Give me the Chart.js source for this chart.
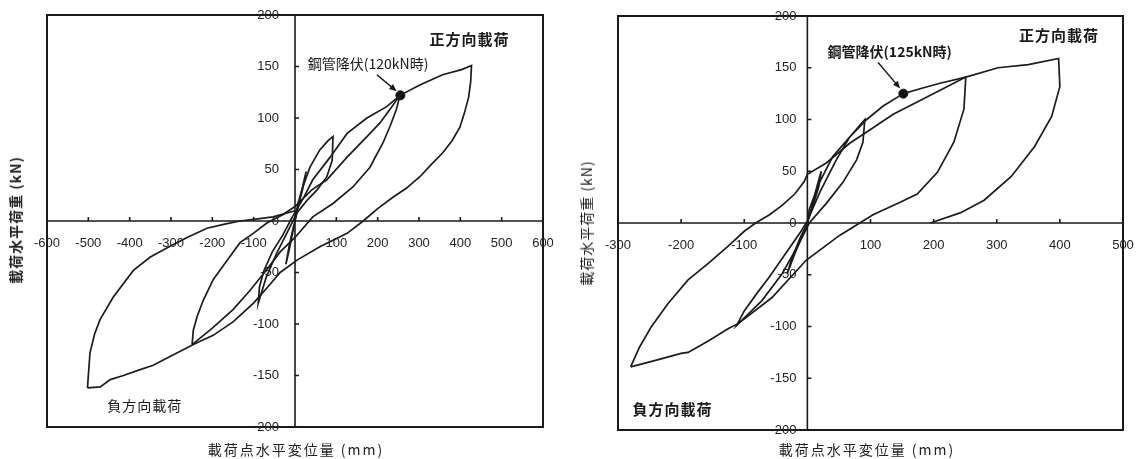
<!DOCTYPE html>
<html><head><meta charset="utf-8">
<script src="https://cdn.jsdelivr.net/npm/chart.js@4.4.0/dist/chart.umd.min.js"></script>
<style>
html,body{margin:0;padding:0;background:#fff;}
#wrap{position:relative;width:1140px;height:459px;overflow:hidden;font-family:"Noto Sans CJK JP","Noto Sans",sans-serif;color:#222;}
canvas{position:absolute;top:0;}
.t{position:absolute;white-space:nowrap;font-size:14px;line-height:1;}
.yt{transform:translate(-50%,-50%) rotate(-90deg);}
.xt{transform:translate(-50%,-50%);}
</style></head><body>
<div id="wrap">
<canvas id="c1" width="570" height="459" style="left:0"></canvas>
<canvas id="c2" width="570" height="459" style="left:570px"></canvas>
<div class="t yt" style="left:15px;top:220px;font-weight:bold;letter-spacing:1px">載荷水平荷重 (kN)</div>
<div class="t yt" style="left:586px;top:223px;letter-spacing:1px">載荷水平荷重 (kN)</div>
<div class="t xt" style="left:296px;top:449px;letter-spacing:2px">載荷点水平変位量 (mm)</div>
<div class="t xt" style="left:867px;top:449px;letter-spacing:2px">載荷点水平変位量 (mm)</div>
</div>
<script>
// ---------- Left specimen ----------
const leftXTicks = [-600, -500, -400, -300, -200, -100, 100, 200, 300, 400, 500, 600];
const leftYTicks = [200, 150, 100, 50, 0, -50, -100, -150, -200];
const leftSmallX = [0, 10, 20, 27, 18, 5, 0, -6, -14, -22, -14, -4, 0];
const leftSmallY = [0, 18, 36, 48, 30, 10, 0, -12, -28, -42, -24, -6, 0];
const leftCycle1X = [0, 7, 19, 36, 60, 80, 92, 90, 77, 53, 29, 5, -20, -45, -70, -89, -86, -75, -55, -30, -5];
const leftCycle1Y = [0, 17, 33, 52, 69, 78, 82, 59, 43, 30, 20, 8, -12, -32, -55, -80, -64, -48, -30, -14, 5];
const leftCycle2X = [-5, 20, 43, 85, 126, 174, 222, 254, 245, 230, 213, 181, 140, 92, 43, 0, -36, -70, -110, -150, -200, -249];
const leftCycle2Y = [5, 22, 40, 62, 85, 100, 111, 122, 108, 92, 76, 52, 33, 17, 4, -16, -30, -48, -68, -86, -104, -120];
const leftCycle3X = [-249, -246, -237, -222, -198, -164, -133, -101, -68, -30, 0, 40, 77, 126, 174, 205, 229, 254, 302, 357, 403, 427, 425, 420, 410, 399, 380, 357, 330, 302, 270, 237, 200, 165, 126, 60, 5, -36, -68, -101, -150, -198, -246, -261, -300, -343, -380, -415, -447, -471, -502];
const leftCycle3Y = [-120, -106, -93, -77, -57, -38, -21, -12, -2, 6, 14, 30, 40, 62, 82, 95, 108, 122, 132, 142, 147, 151, 135, 120, 105, 91, 78, 66, 55, 43, 32, 23, 12, 0, -12, -25, -38, -50, -65, -80, -98, -111, -120, -123, -131, -140, -145, -150, -154, -161, -162];
const leftCycle4X = [-502, -500, -496, -485, -472, -440, -391, -350, -300, -261, -213, -170, -133, -90, -53, 0];
const leftCycle4Y = [-162, -150, -128, -110, -96, -74, -48, -35, -24, -16, -7, -3, 0, 2, 4, 10];
const leftYieldX = [255];
const leftYieldY = [122];

// ---------- Right specimen ----------
const rightXTicks = [-300, -200, -100, 100, 200, 300, 400, 500];
const rightYTicks = [200, 150, 100, 50, 0, -50, -100, -150, -200];
const rightSmallX = [0, 8, 15, 22, 18, 8, 0, -10, -20, -32, -25, -12, 0];
const rightSmallY = [0, 18, 35, 50, 35, 15, 0, -15, -30, -49, -35, -15, 0];
const rightCycle1X = [0, 3, 19, 40, 67, 91, 88, 78, 56, 30, 3, -15, -40, -72, -112, -100, -80, -60, -35, -10, 0, 20, 45, 67, 94, 120, 152];
const rightCycle1Y = [0, 13, 39, 64, 83, 100, 78, 61, 39, 19, 0, -22, -49, -75, -99, -85, -68, -52, -30, -8, 2, 30, 60, 83, 100, 113, 125];
const rightCycle2X = [152, 180, 210, 251, 248, 232, 206, 174, 147, 104, 51, -2, -56, -109, -125, -157, -189, -200, -242, -280];
const rightCycle2Y = [125, 130, 135, 141, 110, 78, 49, 28, 20, 8, -12, -36, -72, -97, -102, -114, -125, -126, -133, -139];
const rightCycle3X = [-280, -266, -248, -221, -189, -157, -125, -100, -82, -60, -40, -20, -5, 0, 30, 67, 94, 136, 174, 251, 302, 350, 398, 400, 387, 360, 323, 280, 243, 195];
const rightCycle3Y = [-139, -120, -101, -78, -55, -39, -22, -8, 0, 8, 17, 28, 40, 47, 58, 77, 88, 105, 117, 141, 150, 153, 159, 132, 103, 74, 45, 22, 10, 0];
const rightYieldX = [152];
const rightYieldY = [125];

const LINE = '#1c1c1c';
function pts(xs, ys) { return xs.map((v, i) => ({x: v, y: ys[i]})); }
function loop(xs, ys) {
  return {data: pts(xs, ys), showLine: true, borderColor: LINE, borderWidth: 1.7, pointRadius: 0, tension: 0, fill: false};
}
function dot(xs, ys) {
  return {data: pts(xs, ys), showLine: false, pointRadius: 4.5, pointBackgroundColor: '#111', pointBorderColor: '#111'};
}

const crossAxes = {
  id: 'crossAxes',
  beforeDatasetsDraw(chart, args, o) {
    const {ctx, chartArea: a} = chart;
    const sx = chart.scales.x, sy = chart.scales.y;
    const x0 = sx.getPixelForValue(0), y0 = sy.getPixelForValue(0);
    ctx.save();
    ctx.strokeStyle = '#1a1a1a';
    ctx.lineWidth = 2;
    ctx.strokeRect(a.left, a.top, a.right - a.left, a.bottom - a.top);
    ctx.lineWidth = 1.6;
    ctx.beginPath();
    ctx.moveTo(a.left, y0); ctx.lineTo(a.right, y0);
    ctx.moveTo(x0, a.top); ctx.lineTo(x0, a.bottom);
    o.xTicks.forEach(v => { const p = sx.getPixelForValue(v); ctx.moveTo(p, y0); ctx.lineTo(p, y0 - 4); });
    o.yTicks.forEach(v => { if (v === 0) return; const p = sy.getPixelForValue(v); ctx.moveTo(x0, p); ctx.lineTo(x0 + 4, p); });
    ctx.stroke();
    ctx.fillStyle = '#222';
    ctx.font = '13px "Liberation Sans", Arial, sans-serif';
    ctx.textAlign = 'center'; ctx.textBaseline = 'middle';
    o.xTicks.forEach(v => ctx.fillText(String(v), sx.getPixelForValue(v), y0 + o.xLabelDy));
    ctx.textAlign = 'right';
    o.yTicks.forEach(v => ctx.fillText(String(v), x0 - o.yLabelGap, sy.getPixelForValue(v)));
    ctx.restore();
  },
  afterDatasetsDraw(chart, args, o) {
    const {ctx} = chart;
    const sx = chart.scales.x, sy = chart.scales.y;
    ctx.save();
    ctx.fillStyle = '#1a1a1a';
    ctx.strokeStyle = '#1a1a1a';
    (o.arrows || []).forEach(ar => {
      const x1 = sx.getPixelForValue(ar.from[0]), y1 = sy.getPixelForValue(ar.from[1]);
      const x2 = sx.getPixelForValue(ar.to[0]), y2 = sy.getPixelForValue(ar.to[1]);
      const ang = Math.atan2(y2 - y1, x2 - x1);
      ctx.lineWidth = 1.5;
      ctx.beginPath(); ctx.moveTo(x1, y1); ctx.lineTo(x2 - 6 * Math.cos(ang), y2 - 6 * Math.sin(ang)); ctx.stroke();
      ctx.beginPath();
      ctx.moveTo(x2, y2);
      ctx.lineTo(x2 - 8 * Math.cos(ang - 0.4), y2 - 8 * Math.sin(ang - 0.4));
      ctx.lineTo(x2 - 8 * Math.cos(ang + 0.4), y2 - 8 * Math.sin(ang + 0.4));
      ctx.closePath(); ctx.fill();
    });
    (o.notes || []).forEach(n => {
      ctx.font = n.font;
      if ('letterSpacing' in ctx) ctx.letterSpacing = (n.spacing || 0) + 'px';
      ctx.textAlign = n.align; ctx.textBaseline = 'middle';
      ctx.fillText(n.text, sx.getPixelForValue(n.x), sy.getPixelForValue(n.y));
    });
    ctx.restore();
  }
};

const CJK = '"Noto Sans CJK JP", sans-serif';

function makeChart(id, xr, yr, pad, datasets, axOpts) {
  return new Chart(document.getElementById(id), {
    type: 'scatter',
    data: {datasets},
    options: {
      responsive: false, animation: false, events: [],
      layout: {padding: pad},
      scales: {
        x: {type: 'linear', min: xr[0], max: xr[1], display: false},
        y: {type: 'linear', min: yr[0], max: yr[1], display: false}
      },
      plugins: {legend: {display: false}, tooltip: {enabled: false}, crossAxes: axOpts}
    },
    plugins: [crossAxes]
  });
}

makeChart('c1', [-600, 600], [-200, 200], {left: 47, right: 27, top: 15, bottom: 32}, [
  loop(leftSmallX, leftSmallY), loop(leftCycle1X, leftCycle1Y), loop(leftCycle2X, leftCycle2Y),
  loop(leftCycle3X, leftCycle3Y), loop(leftCycle4X, leftCycle4Y), dot(leftYieldX, leftYieldY)
], {
  xTicks: leftXTicks, yTicks: leftYTicks, xLabelDy: 22, yLabelGap: 16,
  arrows: [{from: [198, 142], to: [246, 126]}],
  notes: [
    {text: '正方向載荷', x: 519, y: 176, align: 'right', font: 'bold 15px ' + CJK, spacing: 1},
    {text: '鋼管降伏(120kN時)', x: 31, y: 153, align: 'left', font: '14px ' + CJK, spacing: 0},
    {text: '負方向載荷', x: -454, y: -179, align: 'left', font: '14px ' + CJK, spacing: 1}
  ]
});

makeChart('c2', [-300, 500], [-200, 200], {left: 48, right: 17, top: 16, bottom: 29}, [
  loop(rightSmallX, rightSmallY), loop(rightCycle1X, rightCycle1Y), loop(rightCycle2X, rightCycle2Y),
  loop(rightCycle3X, rightCycle3Y), dot(rightYieldX, rightYieldY)
], {
  xTicks: rightXTicks, yTicks: rightYTicks, xLabelDy: 22, yLabelGap: 11,
  arrows: [{from: [112, 155], to: [147, 130]}],
  notes: [
    {text: '鋼管降伏(125kN時)', x: 32, y: 166, align: 'left', font: 'bold 14px ' + CJK, spacing: 0},
    {text: '正方向載荷', x: 462, y: 181, align: 'right', font: 'bold 15px ' + CJK, spacing: 1},
    {text: '負方向載荷', x: -277, y: -180, align: 'left', font: 'bold 15px ' + CJK, spacing: 1}
  ]
});
</script>
</body></html>
